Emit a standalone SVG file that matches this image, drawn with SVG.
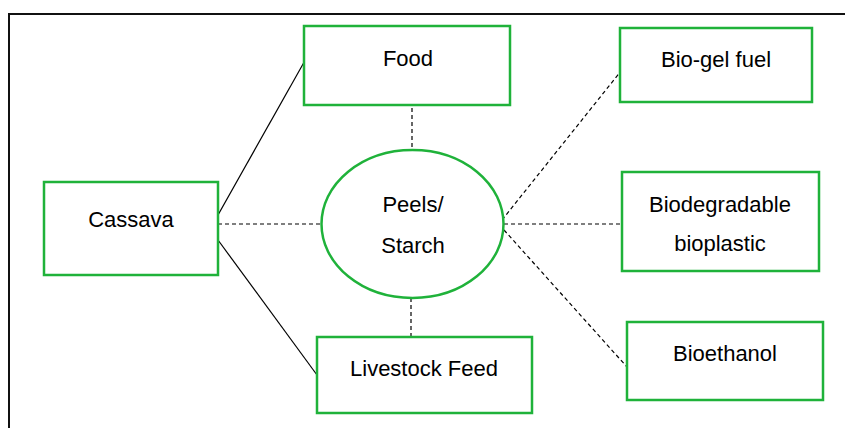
<svg xmlns="http://www.w3.org/2000/svg" width="845" height="428" viewBox="0 0 845 428">
<style>
.box{fill:#fff;stroke:#1fb23a;stroke-width:2.5}
.t{font-family:"Liberation Sans",Arial,sans-serif;font-size:22px;fill:#000;text-anchor:middle}
.solid{stroke:#000;stroke-width:1.2;fill:none}
.dash{stroke:#000;stroke-width:1.2;fill:none;stroke-dasharray:4 3}
</style>
<rect x="0" y="0" width="845" height="428" fill="#fff"/>
<path d="M9,428 V14 H845" fill="none" stroke="#111" stroke-width="2"/>
<g id="connectors">
<line class="solid" x1="218" y1="215" x2="307" y2="57"/>
<line class="solid" x1="218" y1="240" x2="317" y2="375"/>
<line class="dash" x1="218" y1="224" x2="322" y2="224"/>
<line class="dash" x1="412" y1="108" x2="412" y2="150"/>
<line class="dash" x1="411" y1="298" x2="411" y2="340"/>
<line class="dash" x1="504" y1="224" x2="620" y2="224"/>
<line class="dash" x1="502" y1="220" x2="621" y2="71"/>
<line class="dash" x1="504" y1="230" x2="627" y2="367"/>
</g>
<g id="food"><rect class="box" x="304" y="26" width="206" height="79"/><text class="t" x="408" y="66">Food</text></g>
<g id="biogel"><rect class="box" x="620" y="28" width="192" height="74"/><text class="t" x="716" y="67">Bio-gel fuel</text></g>
<g id="cassava"><rect class="box" x="44" y="182" width="174" height="93"/><text class="t" x="131" y="227">Cassava</text></g>
<g id="peels"><ellipse class="box" cx="412.5" cy="224" rx="91" ry="74"/><text class="t" x="413" y="212">Peels/</text><text class="t" x="413" y="253">Starch</text></g>
<g id="bioplastic"><rect class="box" x="622" y="172" width="197" height="99"/><text class="t" x="720" y="212">Biodegradable</text><text class="t" x="720" y="251">bioplastic</text></g>
<g id="livestock"><rect class="box" x="317" y="337" width="215" height="76"/><text class="t" x="424" y="376">Livestock Feed</text></g>
<g id="bioethanol"><rect class="box" x="627" y="322" width="196" height="78"/><text class="t" x="725" y="361">Bioethanol</text></g>
</svg>
